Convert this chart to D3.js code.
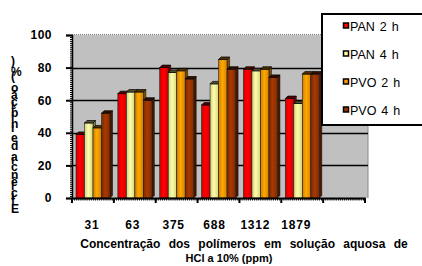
<!DOCTYPE html>
<html>
<head>
<meta charset="utf-8">
<script src="https://cdnjs.cloudflare.com/ajax/libs/d3/7.8.5/d3.min.js"></script>
<style>
  body { margin: 0; background: #fff; }
  svg { display: block; font-family: "Liberation Sans", Arial, sans-serif; }
</style>
</head>
<body>
<svg width="422" height="266"></svg>
<script>
// data
var categories = ['31', '63', '375', '688', '1312', '1879']
var series = ['PAN 2 h', 'PAN 4 h', 'PVO 2 h', 'PVO 4 h']
var colors = ['#ff0000', '#ffff99', '#ff9900', '#993300']
var pan2 = [39, 64, 80, 57, 79, 61]
var pan4 = [46, 65, 77, 70, 78, 58]
var pvo2 = [43, 65, 78, 85, 79, 76]
var pvo4 = [52, 60, 73, 79, 74, 76]
var yTicks = [0, 20, 40, 60, 80, 100]

var values = [pan2, pan4, pvo2, pvo4]

var svg = d3.select('svg')

// the chart has room for a 7th (empty) category
var xScale = d3.scaleBand()
    .domain(categories.concat(['']))
    .range([72, 365])
var yScale = d3.scaleLinear()
    .domain([0, 100])
    .range([198, 35])
var inner = d3.scaleBand()
    .domain(series)
    .range([4, 38])

// gradients so bars look a bit round
var defs = svg.append('defs')
colors.forEach((c, i) => {
    var g = defs.append('linearGradient').attr('id', 'g' + i)
    g.append('stop').attr('offset', '0%').attr('stop-color', d3.color(c).darker(0.6))
    g.append('stop').attr('offset', '45%').attr('stop-color', d3.color(c).brighter(0.3))
    g.append('stop').attr('offset', '100%').attr('stop-color', d3.color(c).darker(0.5))
})

// plot wall
svg.append('rect')
    .attr('x', 72).attr('y', yScale(100))
    .attr('width', 296).attr('height', yScale(0) - yScale(100))
    .attr('fill', '#c0c0c0')
svg.append('line')
    .attr('x1', 368).attr('x2', 368)
    .attr('y1', yScale(100)).attr('y2', yScale(0))
    .attr('stroke', '#8a8a8a')
svg.append('line')
    .attr('x1', 72).attr('x2', 368)
    .attr('y1', yScale(100) - 0.5).attr('y2', yScale(100) - 0.5)
    .attr('stroke', '#777').attr('stroke-dasharray', '1,1')

// gridlines
svg.append('g').selectAll('line')
    .data(yTicks.filter(d => d > 0 && d < 100))
    .enter().append('line')
    .attr('x1', 72).attr('x2', 368)
    .attr('y1', d => Math.round(yScale(d)) + 0.5)
    .attr('y2', d => Math.round(yScale(d)) + 0.5)
    .attr('stroke', '#000').attr('stroke-width', 1.3)

// bars with a small 3d top and side
var depth = 2.5
var groups = svg.append('g').selectAll('g')
    .data(categories)
    .enter().append('g')
    .attr('transform', d => `translate(${xScale(d)},0)`)

series.forEach((s, si) => {
    groups.each(function (cat, ci) {
        var g = d3.select(this)
        var x = inner(s), w = inner.bandwidth()
        var y = yScale(values[si][ci]), y0 = yScale(0)
        var dark = d3.color(colors[si]).darker(3.2)
        g.append('polygon')
            .attr('points', [[x + w, y], [x + w + depth, y - depth], [x + w + depth, y0 - depth], [x + w, y0]].join(' '))
            .attr('fill', d3.color(colors[si]).darker(2))
            .attr('stroke', '#000').attr('stroke-width', 0.5)
        g.append('rect')
            .attr('x', x).attr('y', y)
            .attr('width', w).attr('height', y0 - y)
            .attr('fill', `url(#g${si})`)
            .attr('stroke', '#222').attr('stroke-width', 0.6)
        g.append('polygon')
            .attr('points', [[x, y], [x + depth, y - depth], [x + w + depth, y - depth], [x + w, y]].join(' '))
            .attr('fill', dark)
            .attr('stroke', '#000').attr('stroke-width', 0.7)
    })
})

// y axis
var yAxis = svg.append('g')
    .attr('transform', 'translate(72,0)')
    .call(d3.axisLeft(yScale).tickValues(yTicks).tickSize(6).tickPadding(14))
yAxis.select('.domain').attr('stroke-width', 1.5)
yAxis.selectAll('.tick line').attr('stroke-width', 2)
yAxis.selectAll('text')
    .attr('font-family', '"Liberation Sans", Arial, sans-serif')
    .attr('font-size', 12).attr('font-weight', 'bold').attr('fill', '#000')
    .attr('letter-spacing', 0.5)
// minor ticks on y
svg.append('g')
    .attr('transform', 'translate(72,0)')
    .call(d3.axisLeft(yScale).tickValues(d3.range(0, 101, 1.25)).tickSize(2).tickFormat(''))
    .call(g => g.select('.domain').remove())

// x axis
var xAxis = svg.append('g')
    .attr('transform', 'translate(0,198)')
    .call(d3.axisBottom(xScale).tickValues([]).tickSizeOuter(0))
xAxis.select('.domain').attr('stroke-width', 2)
var bandEdges = xScale.domain().map(d => xScale(d)).concat([xScale.range()[1]])
svg.append('g').selectAll('line')
    .data(bandEdges)
    .enter().append('line')
    .attr('x1', d => d).attr('x2', d => d)
    .attr('y1', 198).attr('y2', 203)
    .attr('stroke', '#000').attr('stroke-width', 2)
var minorX = d3.scaleLinear().domain([0, 7]).range(xScale.range())
svg.append('g')
    .attr('transform', 'translate(0,198)')
    .call(d3.axisBottom(minorX).tickValues(d3.range(0, 7.01, 0.05)).tickSize(2.5).tickFormat(''))
    .call(g => g.select('.domain').remove())

svg.append('g').selectAll('text')
    .data(categories)
    .enter().append('text')
    .attr('x', (d, i) => xScale(d) + xScale.bandwidth() / 2 - 1 - i)
    .attr('y', 229)
    .attr('text-anchor', 'middle')
    .attr('font-size', 12).attr('font-weight', 'bold')
    .attr('letter-spacing', 0.8)
    .text(d => d)

// x title
svg.append('text')
    .attr('x', 244).attr('y', 248)
    .attr('text-anchor', 'middle')
    .attr('font-size', 12).attr('font-weight', 'bold')
    .attr('word-spacing', 5)
    .text('Concentração dos polímeros em solução aquosa de')
svg.append('text')
    .attr('x', 229).attr('y', 262)
    .attr('text-anchor', 'middle')
    .attr('font-size', 11).attr('font-weight', 'bold')
    .text('HCl a 10% (ppm)')

// y title: upright glyphs stacked bottom to top
var yTitle = 'Eficiência de inibição (%)'
svg.append('text')
    .attr('transform', 'translate(11,213) rotate(-90)')
    .attr('font-size', 12).attr('font-weight', 'bold')
    .attr('rotate', 90)
    .attr('textLength', 152).attr('lengthAdjust', 'spacing')
    .text(yTitle)

// legend
var legend = svg.append('g')
legend.append('rect')
    .attr('x', 322).attr('y', 14)
    .attr('width', 110).attr('height', 111)
    .attr('fill', '#fff').attr('stroke', '#000').attr('stroke-width', 2)
var ly = d3.scalePoint().domain(series).range([26, 110])
var items = legend.selectAll('.item')
    .data(series)
    .enter().append('g')
    .attr('transform', d => `translate(0,${ly(d)})`)
items.append('rect')
    .attr('x', 343.5).attr('y', -3)
    .attr('width', 5).attr('height', 5)
    .attr('fill', (d, i) => colors[i])
    .attr('stroke', '#000').attr('stroke-width', 1.5)
items.append('text')
    .attr('x', 350).attr('y', 4.5)
    .attr('font-size', 12.5)
    .attr('word-spacing', 1.5)
    .text(d => d)
</script>
</body>
</html>
